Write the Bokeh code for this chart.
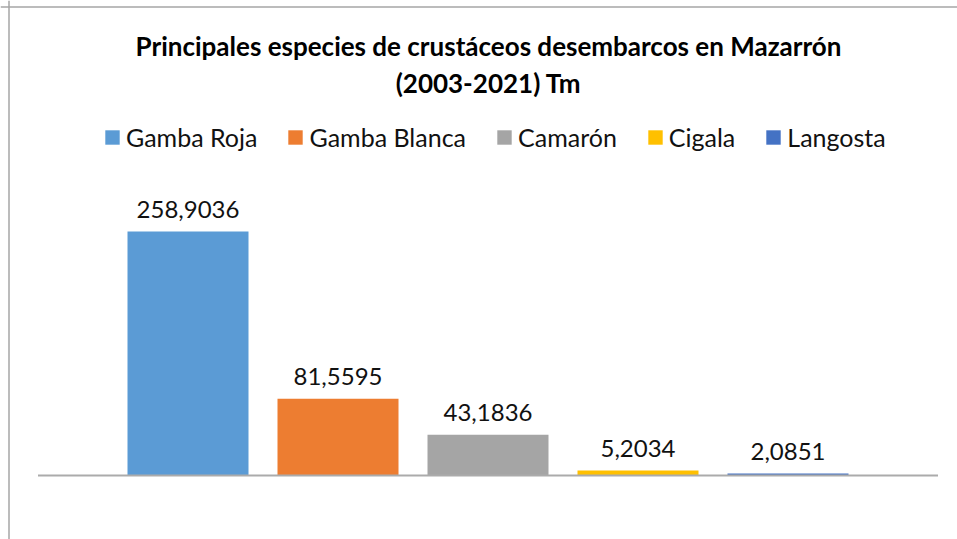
from bokeh.plotting import figure
from bokeh.models import ColumnDataSource, Range1d, LabelSet, Label, Legend, LegendItem, Span
from bokeh.core.properties import value
from bokeh.embed import file_html
from bokeh.resources import INLINE

categories = ["Gamba Roja", "Gamba Blanca", "Camarón", "Cigala", "Langosta"]
values = [258.9036, 81.5595, 43.1836, 5.2034, 2.0851]
colors = ["#5B9BD5", "#ED7D31", "#A5A5A5", "#FFC000", "#4472C4"]
title_lines = ["Principales especies de crustáceos desembarcos en Mazarrón", "(2003-2021) Tm"]

W, H = 957, 539
FONT = "Lato"

labels = [f"{v:.4f}".replace(".", ",") for v in values]
xs = list(range(len(categories)))
source = ColumnDataSource(dict(x=xs, value=values, cat=categories, color=colors, label=labels))

px_per_cat = 150.0
first_center_px = 187.5
base_px = 475.0
px_per_unit = 244.0 / 258.9036

x_start = -first_center_px / px_per_cat
x_end = x_start + W / px_per_cat
y_end = base_px / px_per_unit
y_start = -(H - base_px) / px_per_unit

p = figure(width=W, height=H, output_backend="svg", toolbar_location=None,
           x_range=Range1d(x_start, x_end), y_range=Range1d(y_start, y_end),
           min_border=0, min_border_left=0, min_border_right=0,
           min_border_top=0, min_border_bottom=0)
p.xaxis.visible = False
p.yaxis.visible = False
p.xgrid.visible = False
p.ygrid.visible = False
p.outline_line_color = None
p.background_fill_color = "white"
p.border_fill_color = "white"

# chart border (left and top visible)
p.add_layout(Span(location=8.5, location_units="screen", dimension="height",
                  line_color="#A6A6A6", line_width=1.5))
p.add_layout(Span(location=H - 6.5, location_units="screen", dimension="width",
                  line_color="#A6A6A6", line_width=1.5))

bars = p.vbar(x="x", top="value", bottom=0, width=121 / px_per_cat,
              fill_color="color", line_color=None, source=source)

# category axis baseline
p.segment(x0=[-1.0], x1=[len(categories)], y0=[0], y1=[0],
          line_color="#ABABAB", line_width=2)

p.add_layout(LabelSet(x="x", y="value", text="label", source=source,
                      text_align="center", text_baseline="alphabetic",
                      y_offset=14, text_font=value(FONT), text_font_size="24px",
                      text_color="#111111"))

# title
title_cx = 488
for t, cy in zip(title_lines, [45, 82]):
    p.add_layout(Label(x=title_cx, y=H - cy, x_units="screen", y_units="screen",
                       text=t, text_align="center", text_baseline="middle",
                       text_font=FONT, text_font_style="bold", text_font_size="26px",
                       text_color="#000000"))

items = [LegendItem(label=c, renderers=[bars], index=i) for i, c in enumerate(categories)]
legend = Legend(items=items, orientation="horizontal", location=(103, H - 152),
                glyph_width=18, glyph_height=18, label_standoff=5, spacing=29,
                padding=0, margin=0, border_line_color=None, background_fill_alpha=0,
                label_text_font=FONT, label_text_font_size="25px",
                label_text_color="#111111", label_height=28)
p.add_layout(legend)

open("out.html", "w").write(file_html(p, INLINE))
